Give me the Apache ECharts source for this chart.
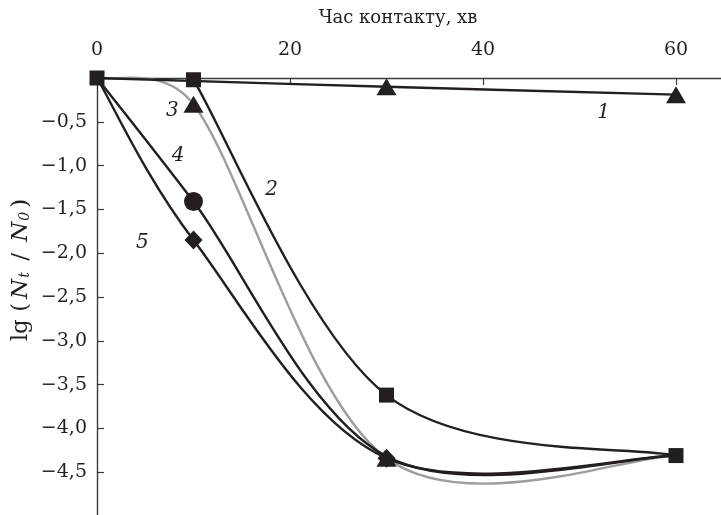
<!DOCTYPE html>
<html>
<head>
<meta charset="utf-8">
<script src="https://cdn.jsdelivr.net/npm/echarts@6/dist/echarts.min.js"></script>
<style>
  html, body { margin: 0; padding: 0; background: #ffffff; }
  #chart { width: 721px; height: 515px; }
</style>
</head>
<body>
<div id="chart"></div>
<script>
// Contact time, min
const contactTime = [0, 10, 30, 60];
// lg(Nt/N0) for each curve (null = no measurement)
const curve1 = [0, null, -0.10, -0.19];
const curve2 = [0, -0.02, -3.62, -4.31];
const curve3 = [0, -0.30, -4.34, -4.31];
const curve4 = [0, -1.41, -4.32, -4.31];
const curve5 = [0, -1.85, -4.34, -4.31];
// Tick labels of the time axis
const timeTicks = [0, 20, 40, 60];
// Curve numbers
const curveNumbers = ['1', '2', '3', '4', '5'];

const INK = '#231f20';
const GREY = '#9d9d9d';
const AXIS = '#3a3a3a';
const FONT = '"DejaVu Serif", "Liberation Serif", serif';

const chart = echarts.init(document.getElementById('chart'), null, { renderer: 'canvas' });

function pointsOf(values, from) {
  const pts = [];
  values.forEach((v, i) => { if (v !== null && i >= from) pts.push([contactTime[i], v]); });
  return pts;
}

// Smoothed line: cubic Bezier through the points, tangents from the
// neighbouring points (1/6 of the chord), capped at half the segment length.
function smoothCurve(values, color, z, from) {
  const pts = pointsOf(values, from || 0);
  return {
    type: 'custom',
    z: z,
    silent: true,
    clip: false,
    data: pts,
    encode: { x: 0, y: 1 },
    renderItem(params, api) {
      const i = params.dataIndex;
      if (i === 0) return null;
      const P = k => api.coord(pts[Math.max(0, Math.min(pts.length - 1, k))]);
      const p0 = P(i - 2), p1 = P(i - 1), p2 = P(i), p3 = P(i + 1);
      const d12 = Math.hypot(p2[0] - p1[0], p2[1] - p1[1]);
      const ctrl = (base, a, b, sign) => {
        const tx = b[0] - a[0], ty = b[1] - a[1];
        const len = Math.hypot(tx, ty) || 1;
        let f = 1 / 6;
        if (len * f > d12 / 2) f = d12 / 2 / len;
        return [base[0] + sign * tx * f, base[1] + sign * ty * f];
      };
      const c1 = ctrl(p1, p0, p2, 1);
      const c2 = ctrl(p2, p1, p3, -1);
      return {
        type: 'bezierCurve',
        shape: {
          x1: p1[0], y1: p1[1],
          cpx1: c1[0], cpy1: c1[1],
          cpx2: c2[0], cpy2: c2[1],
          x2: p2[0], y2: p2[1]
        },
        style: { stroke: color, lineWidth: 2.4, fill: 'none', lineCap: 'round' }
      };
    }
  };
}

function markers(values, symbol, size, shownAt) {
  return {
    type: 'scatter',
    symbol: symbol,
    symbolSize: size,
    z: 5,
    silent: true,
    itemStyle: { color: INK, opacity: 1 },
    emphasis: { disabled: true },
    data: shownAt.map(i => [contactTime[i], values[i]])
  };
}

const fmtY = v => (v === 0 || v <= -5 ? '' : '\u2212' + Math.abs(v).toFixed(1).replace('.', ','));

chart.setOption({
  animation: false,
  backgroundColor: '#ffffff',
  grid: {
    left: 97, top: 78, width: 624, height: 438,
    containLabel: false, outerBoundsMode: 'none'
  },
  xAxis: {
    type: 'value',
    position: 'top',
    min: 0,
    max: 624 / 9.65,
    interval: 20,
    name: 'Час контакту, хв',
    nameLocation: 'middle',
    nameGap: 51,
    nameTextStyle: { fontFamily: FONT, fontSize: 18, color: INK, padding: [0, 22, 0, 0] },
    axisLine: { show: true, onZero: false, lineStyle: { color: AXIS, width: 1.4 } },
    axisTick: { show: true, inside: true, length: 7, lineStyle: { color: AXIS, width: 1.2 } },
    axisLabel: {
      margin: 18, fontFamily: FONT, fontSize: 19, color: INK,
      showMaxLabel: false,
      formatter: v => (timeTicks.indexOf(v) >= 0 ? String(v) : '')
    },
    splitLine: { show: false }
  },
  yAxis: {
    type: 'value',
    min: -5,
    max: 0,
    interval: 0.5,
    axisLine: { show: true, onZero: false, lineStyle: { color: AXIS, width: 1.4 } },
    axisTick: { show: true, inside: true, length: 7, lineStyle: { color: AXIS, width: 1.2 } },
    axisLabel: { margin: 10, fontFamily: FONT, fontSize: 19, color: INK, formatter: fmtY, showMinLabel: false },
    splitLine: { show: false }
  },
  series: [
    smoothCurve(curve3, GREY, 2),
    smoothCurve(curve1, INK, 3),
    smoothCurve(curve2, INK, 3, 1),
    smoothCurve(curve4, INK, 3),
    smoothCurve(curve5, INK, 3),
    markers(curve1, 'triangle', [20, 17], [2, 3]),
    markers(curve3, 'triangle', [20, 17], [1, 2]),
    markers(curve4, 'circle', 19, [1]),
    markers(curve5, 'diamond', [18, 19], [1, 2]),
    markers(curve2, 'rect', 15, [0, 1, 2, 3])
  ]
});

// Curve numbers, anchored in data units
const numberAnchors = [[52.5, -0.40], [18.1, -1.28], [7.8, -0.37], [8.4, -0.89], [4.7, -1.88]];
const numberTexts = curveNumbers.map((t, k) => {
  const p = chart.convertToPixel({ gridIndex: 0 }, numberAnchors[k]);
  return {
    type: 'text', x: p[0], y: p[1], silent: true,
    style: {
      text: t, fill: INK, fontFamily: FONT, fontSize: 20, fontStyle: 'italic',
      align: 'center', verticalAlign: 'middle'
    }
  };
});

chart.setOption({
  graphic: numberTexts.concat([{
    type: 'text',
    x: 21, y: 270,
    rotation: Math.PI / 2,
    silent: true,
    style: {
      text: '{a|lg (}{i|N}{s|t}{a| / }{i|N}{s|0}{a|)}',
      align: 'center',
      verticalAlign: 'middle',
      fill: INK,
      rich: {
        a: { fontFamily: FONT, fontSize: 23, fill: INK, padding: [0, 2, 0, 2] },
        i: { fontFamily: FONT, fontSize: 23, fontStyle: 'italic', fill: INK, padding: [0, 0, 0, 2] },
        s: { fontFamily: FONT, fontSize: 14, fontStyle: 'italic', fill: INK, verticalAlign: 'bottom', padding: [0, 2, 0, 1] }
      }
    }
  }])
});
</script>
</body>
</html>
